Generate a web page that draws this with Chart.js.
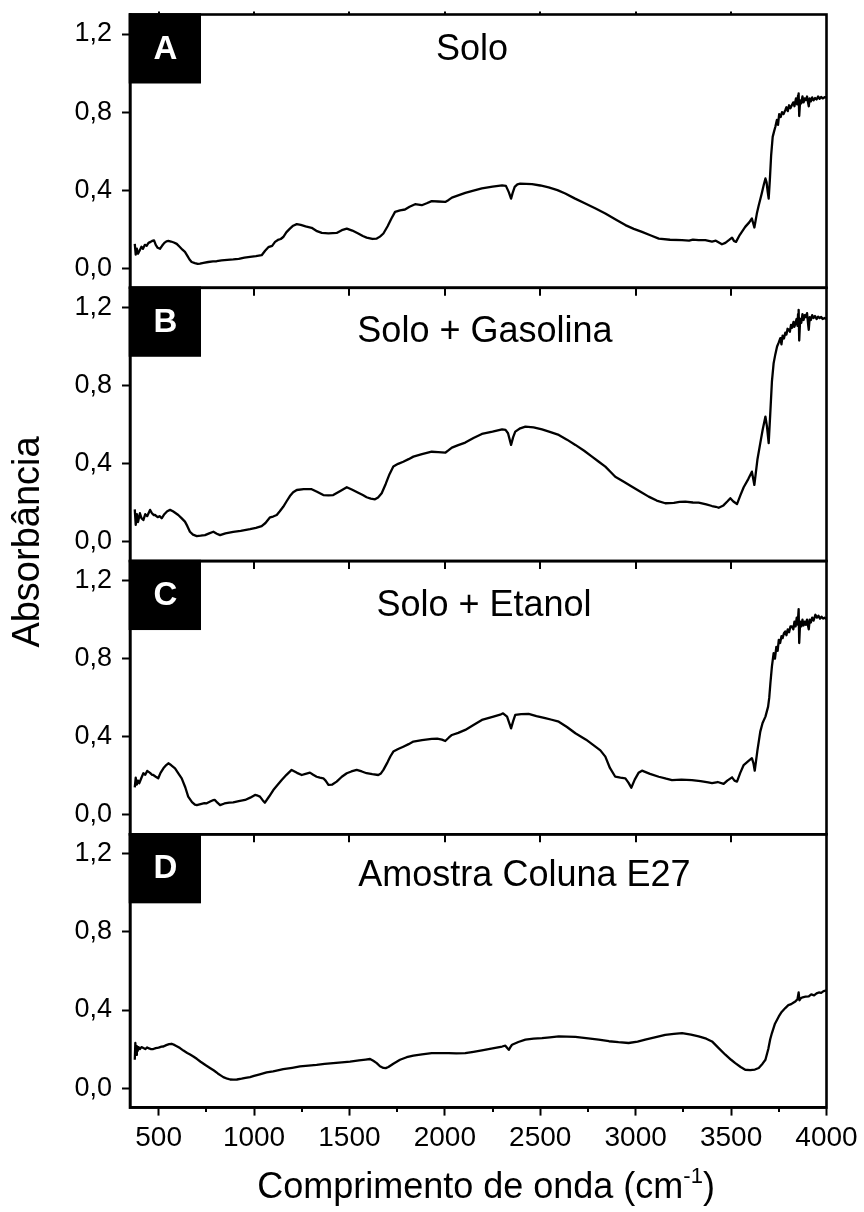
<!DOCTYPE html>
<html lang="pt">
<head>
<meta charset="utf-8">
<title>Espectros de absorbância</title>
<script src="https://cdn.jsdelivr.net/npm/chart.js@4.4.1/dist/chart.umd.min.js"></script>
<style>
  html, body { margin: 0; padding: 0; background: #fff; }
  #wrap { position: relative; width: 864px; height: 1212px; }
  canvas { display: block; }
</style>
</head>
<body>
<div id="wrap"><canvas id="spectra" width="864" height="1212"></canvas></div>
<script>
// Spectra: [wavenumber (cm-1), absorbance]
const solo = [
  [375,0.125],[380,0.07],[386,0.10],[392,0.075],[400,0.09],[410,0.11],[418,0.10],[428,0.12],[437,0.115],[447,0.13],
  [458,0.135],[466,0.14],[476,0.143],[485,0.12],[495,0.105],[507,0.10],[518,0.115],[530,0.13],[541,0.138],[551,0.14],
  [565,0.137],[580,0.132],[595,0.125],[610,0.11],[625,0.095],[638,0.084],[650,0.065],[662,0.045],[673,0.032],[690,0.026],
  [705,0.022],[717,0.024],[735,0.028],[760,0.032],[785,0.035],[804,0.036],[830,0.040],[860,0.043],[891,0.045],[920,0.048],
  [950,0.054],[979,0.058],[1010,0.062],[1040,0.067],[1058,0.09],[1075,0.108],[1095,0.115],[1110,0.135],[1125,0.145],[1140,0.150],
  [1153,0.16],[1170,0.185],[1188,0.203],[1205,0.218],[1224,0.226],[1245,0.222],[1270,0.215],[1302,0.207],[1330,0.19],[1355,0.181],
  [1390,0.179],[1433,0.181],[1460,0.195],[1486,0.203],[1515,0.193],[1546,0.178],[1570,0.165],[1590,0.157],[1620,0.15],[1643,0.152],
  [1660,0.162],[1678,0.178],[1700,0.215],[1720,0.255],[1739,0.289],[1765,0.297],[1791,0.301],[1815,0.315],[1844,0.328],[1879,0.323],
  [1905,0.333],[1931,0.344],[1965,0.342],[2002,0.34],[2020,0.35],[2037,0.362],[2070,0.373],[2107,0.386],[2150,0.398],[2194,0.409],
  [2250,0.418],[2300,0.425],[2320,0.422],[2335,0.39],[2347,0.357],[2355,0.385],[2366,0.417],[2380,0.43],[2395,0.434],[2457,0.431],
  [2500,0.424],[2544,0.414],[2590,0.40],[2631,0.383],[2680,0.358],[2736,0.332],[2790,0.306],[2841,0.281],[2895,0.25],[2946,0.221],
  [2990,0.202],[3033,0.186],[3080,0.168],[3121,0.152],[3180,0.146],[3243,0.144],[3280,0.142],[3300,0.147],[3330,0.144],[3365,0.144],
  [3400,0.137],[3420,0.141],[3452,0.123],[3470,0.13],[3490,0.145],[3505,0.157],[3515,0.14],[3526,0.135],[3545,0.17],[3574,0.212],
  [3595,0.235],[3609,0.255],[3622,0.209],[3635,0.28],[3645,0.323],[3660,0.38],[3672,0.43],[3680,0.46],[3686,0.44],[3692,0.39],
  [3697,0.357],[3703,0.45],[3710,0.58],[3718,0.673],[3725,0.70],[3732,0.725],[3740,0.76],[3746,0.735],[3752,0.79],[3760,0.775],
  [3767,0.80],[3775,0.79],[3784,0.81],[3790,0.825],[3797,0.805],[3804,0.835],[3811,0.82],[3819,0.836],[3826,0.85],[3832,0.83],
  [3840,0.87],[3846,0.84],[3851,0.885],[3854,0.896],[3857,0.78],[3862,0.86],[3868,0.845],[3874,0.88],[3880,0.85],[3886,0.87],
  [3892,0.862],[3898,0.88],[3904,0.845],[3907,0.83],[3912,0.87],[3918,0.855],[3925,0.875],[3932,0.86],[3940,0.872],[3948,0.865],
  [3956,0.88],[3964,0.868],[3972,0.878],[3980,0.87],[3990,0.876],[4000,0.875]
];

const gasolina = [
  [375,0.165],[380,0.085],[386,0.14],[392,0.10],[402,0.145],[410,0.12],[420,0.11],[430,0.14],[440,0.13],[455,0.162],
  [465,0.145],[475,0.135],[481,0.136],[495,0.125],[505,0.13],[516,0.119],[530,0.14],[545,0.155],[560,0.162],[575,0.155],
  [590,0.145],[603,0.136],[620,0.12],[638,0.102],[650,0.08],[664,0.05],[680,0.035],[700,0.028],[720,0.03],[743,0.033],
  [765,0.042],[787,0.05],[805,0.04],[822,0.033],[850,0.042],[891,0.05],[930,0.055],[979,0.063],[1010,0.07],[1040,0.079],
  [1060,0.095],[1084,0.124],[1100,0.128],[1119,0.136],[1135,0.155],[1153,0.178],[1170,0.205],[1188,0.233],[1205,0.252],[1224,0.264],
  [1260,0.268],[1302,0.268],[1330,0.255],[1363,0.238],[1390,0.236],[1415,0.238],[1450,0.258],[1486,0.278],[1515,0.265],[1546,0.25],
  [1570,0.238],[1590,0.227],[1612,0.22],[1634,0.216],[1650,0.225],[1669,0.247],[1690,0.295],[1710,0.345],[1730,0.384],[1755,0.398],
  [1782,0.409],[1810,0.422],[1835,0.435],[1880,0.448],[1931,0.46],[1965,0.458],[2002,0.455],[2020,0.468],[2037,0.481],[2070,0.494],
  [2107,0.507],[2150,0.53],[2194,0.551],[2250,0.563],[2300,0.575],[2318,0.572],[2331,0.555],[2347,0.495],[2358,0.535],[2369,0.563],
  [2395,0.58],[2422,0.589],[2465,0.585],[2509,0.575],[2550,0.562],[2597,0.546],[2640,0.522],[2684,0.495],[2730,0.465],[2771,0.435],
  [2805,0.41],[2841,0.384],[2870,0.355],[2893,0.332],[2940,0.305],[2981,0.281],[3025,0.255],[3068,0.23],[3110,0.21],[3155,0.196],
  [3200,0.198],[3230,0.203],[3260,0.204],[3300,0.2],[3330,0.199],[3370,0.19],[3400,0.182],[3420,0.178],[3435,0.173],[3460,0.185],
  [3480,0.205],[3496,0.222],[3512,0.205],[3531,0.192],[3548,0.235],[3566,0.278],[3590,0.32],[3609,0.358],[3622,0.29],[3638,0.42],
  [3653,0.504],[3665,0.57],[3680,0.64],[3688,0.59],[3697,0.504],[3705,0.65],[3714,0.82],[3723,0.914],[3732,0.96],[3741,0.999],
  [3750,1.02],[3758,1.042],[3764,1.01],[3770,1.055],[3777,1.04],[3784,1.07],[3790,1.06],[3796,1.09],[3802,1.085],[3808,1.075],
  [3814,1.11],[3820,1.095],[3827,1.125],[3832,1.10],[3837,1.119],[3843,1.14],[3848,1.105],[3851,1.165],[3854,1.187],[3857,1.03],
  [3862,1.14],[3868,1.12],[3874,1.165],[3880,1.135],[3886,1.16],[3892,1.15],[3898,1.17],[3904,1.11],[3907,1.085],[3912,1.15],
  [3918,1.135],[3925,1.16],[3932,1.145],[3940,1.155],[3948,1.14],[3956,1.152],[3964,1.145],[3972,1.15],[3980,1.14],[3990,1.145],
  [4000,1.14]
];

const etanol = [
  [375,0.14],[380,0.19],[386,0.155],[392,0.175],[399,0.162],[410,0.19],[420,0.213],[430,0.205],[440,0.225],[446,0.221],
  [455,0.215],[465,0.205],[472,0.204],[485,0.195],[498,0.187],[510,0.215],[525,0.238],[540,0.255],[551,0.264],[565,0.255],
  [586,0.238],[605,0.21],[621,0.187],[640,0.14],[655,0.093],[675,0.065],[690,0.052],[700,0.05],[720,0.055],[740,0.06],
  [752,0.059],[770,0.068],[785,0.075],[795,0.076],[808,0.062],[822,0.05],[845,0.058],[870,0.062],[891,0.064],[920,0.07],
  [953,0.076],[980,0.088],[1005,0.102],[1020,0.098],[1031,0.093],[1045,0.075],[1057,0.062],[1080,0.095],[1101,0.127],[1125,0.155],
  [1145,0.178],[1170,0.205],[1197,0.23],[1225,0.215],[1250,0.204],[1270,0.21],[1293,0.216],[1310,0.205],[1328,0.195],[1345,0.19],
  [1363,0.187],[1375,0.175],[1390,0.153],[1410,0.155],[1433,0.17],[1460,0.195],[1486,0.213],[1510,0.222],[1538,0.23],[1565,0.222],
  [1590,0.213],[1620,0.208],[1651,0.204],[1665,0.212],[1678,0.23],[1700,0.27],[1715,0.30],[1730,0.324],[1755,0.337],[1782,0.349],
  [1810,0.362],[1835,0.375],[1880,0.383],[1931,0.389],[1960,0.39],[1985,0.385],[2002,0.378],[2020,0.395],[2037,0.409],[2070,0.42],
  [2107,0.435],[2150,0.46],[2194,0.486],[2250,0.502],[2290,0.513],[2305,0.52],[2326,0.503],[2347,0.443],[2358,0.48],[2369,0.512],
  [2400,0.516],[2439,0.517],[2480,0.506],[2526,0.495],[2560,0.487],[2597,0.477],[2640,0.45],[2684,0.418],[2740,0.385],[2789,0.349],
  [2815,0.33],[2841,0.298],[2865,0.24],[2893,0.195],[2920,0.19],[2946,0.187],[2962,0.165],[2977,0.139],[2995,0.18],[3015,0.215],
  [3033,0.226],[3075,0.21],[3121,0.195],[3160,0.185],[3190,0.178],[3240,0.18],[3295,0.178],[3340,0.172],[3380,0.166],[3400,0.162],
  [3430,0.168],[3461,0.158],[3480,0.175],[3505,0.192],[3518,0.175],[3531,0.17],[3548,0.215],[3566,0.255],[3590,0.275],[3609,0.29],
  [3617,0.265],[3624,0.226],[3638,0.33],[3653,0.426],[3665,0.47],[3680,0.503],[3694,0.554],[3700,0.60],[3706,0.674],[3714,0.76],
  [3723,0.828],[3730,0.80],[3737,0.86],[3744,0.84],[3750,0.896],[3757,0.88],[3764,0.915],[3770,0.905],[3777,0.93],[3784,0.939],
  [3790,0.92],[3797,0.95],[3804,0.935],[3811,0.965],[3819,0.965],[3826,0.95],[3832,0.99],[3838,0.965],[3844,1.01],[3849,0.975],
  [3854,1.054],[3857,0.88],[3862,0.99],[3868,0.965],[3874,1.0],[3880,0.97],[3886,0.99],[3892,0.973],[3898,1.0],[3904,0.965],
  [3907,0.95],[3912,1.0],[3918,0.985],[3925,1.01],[3932,0.995],[3942,1.025],[3950,1.01],[3958,1.02],[3966,1.005],[3974,1.015],
  [3982,1.005],[3990,1.01],[4000,1.003]
];

const colunaE27 = [
  [375,0.145],[378,0.231],[382,0.17],[386,0.215],[390,0.19],[395,0.21],[402,0.2],[410,0.21],[420,0.205],[430,0.2],
  [440,0.208],[450,0.203],[460,0.2],[472,0.2],[485,0.205],[500,0.207],[515,0.212],[525,0.213],[540,0.22],[555,0.225],
  [568,0.227],[585,0.22],[600,0.212],[612,0.205],[630,0.192],[650,0.18],[665,0.172],[682,0.162],[700,0.15],[720,0.135],
  [745,0.118],[769,0.103],[790,0.09],[810,0.075],[825,0.065],[839,0.056],[860,0.048],[875,0.044],[891,0.043],[910,0.044],
  [935,0.048],[955,0.052],[979,0.056],[1000,0.062],[1030,0.07],[1066,0.08],[1100,0.086],[1130,0.092],[1153,0.097],[1200,0.104],
  [1241,0.111],[1285,0.115],[1328,0.119],[1370,0.124],[1415,0.128],[1460,0.132],[1503,0.136],[1550,0.142],[1585,0.146],[1608,0.149],
  [1625,0.14],[1643,0.128],[1660,0.112],[1678,0.103],[1690,0.102],[1704,0.108],[1730,0.125],[1765,0.145],[1800,0.158],[1835,0.166],
  [1880,0.173],[1931,0.179],[1980,0.179],[2020,0.179],[2060,0.178],[2107,0.179],[2150,0.186],[2194,0.193],[2250,0.203],[2300,0.213],
  [2317,0.217],[2327,0.205],[2335,0.196],[2345,0.212],[2352,0.222],[2385,0.236],[2422,0.248],[2465,0.253],[2509,0.256],[2550,0.26],
  [2597,0.265],[2640,0.264],[2684,0.262],[2740,0.256],[2806,0.248],[2860,0.24],[2910,0.235],[2963,0.231],[3010,0.238],[3050,0.248],
  [3100,0.26],[3155,0.273],[3200,0.278],[3243,0.282],[3290,0.274],[3330,0.265],[3370,0.253],[3400,0.239],[3435,0.205],[3470,0.171],
  [3500,0.145],[3522,0.128],[3550,0.108],[3574,0.094],[3600,0.092],[3625,0.095],[3645,0.103],[3665,0.125],[3680,0.145],[3695,0.20],
  [3705,0.25],[3714,0.282],[3730,0.33],[3750,0.367],[3765,0.39],[3784,0.41],[3800,0.425],[3815,0.43],[3830,0.44],[3837,0.444],
  [3848,0.455],[3854,0.49],[3858,0.45],[3865,0.46],[3875,0.465],[3890,0.468],[3907,0.47],[3920,0.48],[3935,0.475],[3948,0.485],
  [3960,0.49],[3972,0.488],[3985,0.497],[4000,0.5]
];

const panelLetters = ['A', 'B', 'C', 'D'];
const panelTitles = ['Solo', 'Solo + Gasolina', 'Solo + Etanol', 'Amostra Coluna E27'];
const xTickValues = [500, 1000, 1500, 2000, 2500, 3000, 3500, 4000];
const xMinorValues = [750, 1250, 1750, 2250, 2750, 3250, 3750];
const yTickValues = [0, 0.4, 0.8, 1.2];
const xAxisTitle = ['Comprimento de onda (cm', '-1', ')'];
const yAxisTitle = 'Absorbância';

// Layout and styling
const FONT = '"Liberation Sans", Arial, Helvetica, sans-serif';
const FRAME_W = 2.6;
const panelIds = ['yA', 'yB', 'yC', 'yD'];
const titleCenters = [2142, 2210, 2205, 2417];   // x (cm-1) of each panel title centre
const titleBaselines = [45.5, 54.7, 55, 51.2];   // px below each panel top

Chart.defaults.font.family = FONT;
Chart.defaults.color = '#000';

const toPoints = arr => arr.map(([x, y]) => ({ x, y }));
const series = [solo, gasolina, etanol, colunaE27];

const datasets = series.map((s, i) => ({
  label: panelTitles[i],
  data: toPoints(s),
  yAxisID: panelIds[i],
  borderColor: '#000',
  borderWidth: 2.3,
  borderJoinStyle: 'round',
  pointRadius: 0,
  tension: 0,
  fill: false
}));

function yScale(weight) {
  return {
    type: 'linear',
    position: 'left',
    stack: 'paineis',
    stackWeight: 1,
    weight: weight,
    min: -0.1,
    max: 1.3,
    afterBuildTicks: s => { s.ticks = yTickValues.map(v => ({ value: v })); },
    afterFit: s => { s.width = 130; s.paddingTop = 0; s.paddingBottom = 0; },
    ticks: {
      font: { size: 27 },
      color: '#000',
      padding: 10,
      callback: v => v.toFixed(1).replace('.', ',')
    },
    grid: { drawOnChartArea: false, drawTicks: true, tickLength: 8, tickWidth: 2, tickColor: '#000' },
    border: { display: true, color: '#000', width: FRAME_W }
  };
}

const decorations = {
  id: 'decorations',
  afterDraw(chart) {
    const { ctx, chartArea } = chart;
    const xs = chart.scales.x;
    const left = chartArea.left, right = chartArea.right;
    ctx.save();
    ctx.strokeStyle = '#000';
    ctx.fillStyle = '#000';

    // panel frames
    ctx.lineWidth = FRAME_W;
    panelIds.forEach(id => {
      const s = chart.scales[id];
      ctx.strokeRect(left, s.top, right - left, s.bottom - s.top);
    });

    // major ticks where panels meet, pointing into the lower panel
    ctx.lineWidth = 2;
    ctx.beginPath();
    panelIds.slice(0, 3).forEach(id => {
      const s = chart.scales[id];
      xTickValues.slice(0, -1).forEach(v => {
        const px = Math.round(xs.getPixelForValue(v));
        ctx.moveTo(px, s.bottom);
        ctx.lineTo(px, s.bottom + 8);
      });
    });
    // short ticks on the top edge
    const sTop = chart.scales.yA;
    xTickValues.slice(0, -1).forEach(v => {
      const px = Math.round(xs.getPixelForValue(v));
      ctx.moveTo(px, sTop.top);
      ctx.lineTo(px, sTop.top - 3);
    });
    // minor ticks on the wavenumber axis
    xMinorValues.forEach(v => {
      const px = Math.round(xs.getPixelForValue(v));
      ctx.moveTo(px, xs.top);
      ctx.lineTo(px, xs.top + 4.5);
    });
    ctx.stroke();

    // letter boxes and panel titles
    panelIds.forEach((id, i) => {
      const s = chart.scales[id];
      ctx.fillStyle = '#000';
      ctx.fillRect(left - 1.3, s.top - 1.3, 72.3, 70.3);
      ctx.fillStyle = '#fff';
      ctx.font = 'bold 33px ' + FONT;
      ctx.textAlign = 'center';
      ctx.textBaseline = 'alphabetic';
      ctx.fillText(panelLetters[i], left + 35.5, s.top + 44);

      ctx.fillStyle = '#000';
      ctx.font = '36px ' + FONT;
      ctx.fillText(panelTitles[i], xs.getPixelForValue(titleCenters[i]), s.top + titleBaselines[i]);
    });

    // x axis title with superscript
    ctx.textAlign = 'left';
    ctx.font = '36px ' + FONT;
    const wMain = ctx.measureText(xAxisTitle[0]).width;
    const wClose = ctx.measureText(xAxisTitle[2]).width;
    ctx.font = '22px ' + FONT;
    const wSup = ctx.measureText(xAxisTitle[1]).width;
    const total = wMain + wSup + wClose;
    let tx = 486 - total / 2;
    const base = 1198;
    ctx.font = '36px ' + FONT;
    ctx.fillText(xAxisTitle[0], tx, base);
    tx += wMain;
    ctx.font = '22px ' + FONT;
    ctx.fillText(xAxisTitle[1], tx, base - 15);
    tx += wSup;
    ctx.font = '36px ' + FONT;
    ctx.fillText(xAxisTitle[2], tx, base);

    // y axis title
    ctx.save();
    ctx.translate(38.5, 542);
    ctx.rotate(-Math.PI / 2);
    ctx.textAlign = 'center';
    ctx.font = '38px ' + FONT;
    ctx.fillText(yAxisTitle, 0, 0);
    ctx.restore();

    ctx.restore();
  }
};

new Chart(document.getElementById('spectra'), {
  type: 'line',
  data: { datasets },
  options: {
    responsive: false,
    animation: false,
    events: [],
    layout: { padding: { top: 14.5, right: 37.5, left: 0, bottom: 0 } },
    plugins: { legend: { display: false }, tooltip: { enabled: false }, title: { display: false } },
    scales: {
      x: {
        type: 'linear',
        position: 'bottom',
        min: 350,
        max: 4000,
        afterBuildTicks: s => { s.ticks = xTickValues.map(v => ({ value: v })); },
        afterFit: s => { s.height = 104.4; s.paddingLeft = 0; s.paddingRight = 0; },
        ticks: { font: { size: 28 }, color: '#000', padding: 6, maxRotation: 0, callback: v => String(v) },
        grid: { drawOnChartArea: false, drawTicks: true, tickLength: 8, tickWidth: 2, tickColor: '#000' },
        border: { display: true, color: '#000', width: FRAME_W }
      },
      yD: yScale(1),
      yC: yScale(2),
      yB: yScale(3),
      yA: yScale(4)
    }
  },
  plugins: [decorations]
});
</script>
</body>
</html>
